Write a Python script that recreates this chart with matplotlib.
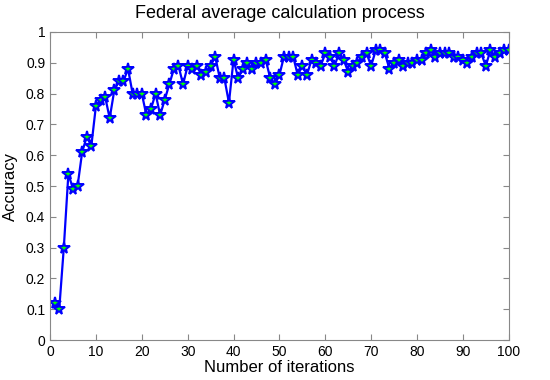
import numpy as np
import matplotlib.pyplot as plt

plt.rcParams['font.family'] = ['Liberation Sans', 'DejaVu Sans']

# accuracy per iteration
iterations = list(range(1, 101))
accuracy = [
    0.12, 0.10, 0.30, 0.54, 0.49, 0.50, 0.61, 0.66, 0.63, 0.76,
    0.78, 0.79, 0.72, 0.81, 0.84, 0.84, 0.88, 0.80, 0.80, 0.80,
    0.73, 0.75, 0.80, 0.73, 0.78, 0.83, 0.88, 0.89, 0.83, 0.89,
    0.88, 0.89, 0.86, 0.87, 0.89, 0.92, 0.85, 0.85, 0.77, 0.91,
    0.85, 0.88, 0.90, 0.88, 0.90, 0.90, 0.91, 0.85, 0.83, 0.86,
    0.92, 0.92, 0.92, 0.86, 0.89, 0.86, 0.91, 0.90, 0.89, 0.93,
    0.92, 0.89, 0.93, 0.91, 0.87, 0.89, 0.90, 0.92, 0.93, 0.89,
    0.94, 0.94, 0.93, 0.88, 0.90, 0.91, 0.89, 0.90, 0.90, 0.91,
    0.91, 0.93, 0.94, 0.92, 0.93, 0.93, 0.93, 0.92, 0.92, 0.91,
    0.90, 0.92, 0.93, 0.93, 0.89, 0.94, 0.92, 0.93, 0.94, 0.94,
]

fig = plt.figure(figsize=(5.5, 3.8), dpi=100)
ax = fig.add_axes([0.091, 0.105, 0.834, 0.811])

ax.plot(iterations, accuracy, color='#0000ff', linewidth=1.6,
        marker='*', markersize=8.5, markerfacecolor='#00ff00',
        markeredgecolor='#0000ff', markeredgewidth=1.4)

ax.set_xlim(0, 100)
ax.set_ylim(0, 1)
ax.set_xticks(np.arange(0, 101, 10))
ax.set_yticks(np.arange(0, 1.01, 0.1))
ax.set_yticklabels(['0', '0.1', '0.2', '0.3', '0.4', '0.5', '0.6', '0.7', '0.8', '0.9', '1'])
ax.tick_params(direction='in', top=True, right=True, labelsize=10, length=4, color='#888888')
for s in ax.spines.values():
    s.set_color('#888888')

ax.set_xlabel('Number of iterations', fontsize=12, labelpad=1)
ax.set_ylabel('Accuracy', fontsize=12, labelpad=6)
ax.set_title('Federal average calculation process', fontsize=13, pad=10)

fig.savefig('out.png', dpi=100)
